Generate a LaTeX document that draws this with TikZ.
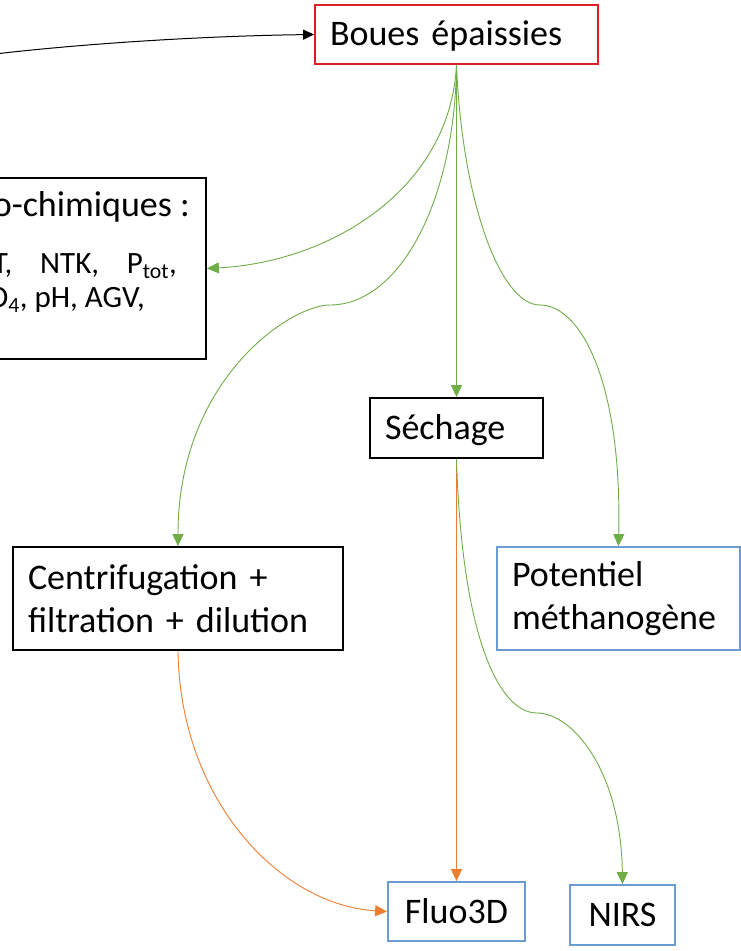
\documentclass[tikz,border=0pt]{standalone}
\usepackage{fontspec}
\setmainfont{Carlito}
\usetikzlibrary{arrows.meta}
\definecolor{boxred}{RGB}{222,30,36}
\definecolor{boxblue}{RGB}{108,155,210}
\definecolor{lgreen}{RGB}{112,173,71}
\definecolor{lorange}{RGB}{237,125,49}
\begin{document}
\begin{tikzpicture}[x=1pt,y=-1pt,
  bigfont/.style={font=\fontsize{36}{43}\selectfont},
  box/.style={rectangle, draw=black, line width=1.8pt, inner xsep=15pt, inner ysep=0pt,
    align=left, bigfont, anchor=center},
  redbox/.style={box, draw=boxred},
  bluebox/.style={box, draw=boxblue},
  smalltext/.style={font=\fontsize{31}{37}\selectfont, inner sep=0pt},
  linetext/.style={bigfont, inner sep=0pt},
  garrow/.style={draw=lgreen, line width=0.9pt, -{Triangle[length=12pt,width=11pt]}},
  oarrow/.style={draw=lorange, line width=0.9pt, -{Triangle[length=12pt,width=11pt]}},
  karrow/.style={draw=black, line width=1pt, -{Triangle[length=11pt,width=10pt]}}
]
\useasboundingbox (0,0) rectangle (741,951);
\fill[white] (0,0) rectangle (741,951);

% nodes
\node[redbox, minimum width=283pt, minimum height=59pt, text width=253pt, text depth=2pt] (boues) at (456.5,34.5) {Boues épaissies};
\node[rectangle, draw=black, line width=1.8pt, minimum width=236pt, minimum height=181pt, inner sep=0pt] (phys) at (88,268.5) {};
\node[linetext, anchor=base east] (l1) at (190,216) {o-chimiques :};
\node[smalltext, anchor=base east] (l2) at (177,273) {\hbox to 184pt{T,\hfill NTK,\hfill P\textsubscript{tot},}};
\node[smalltext, anchor=base east] (l3) at (145,307) {O\textsubscript{4}, pH, AGV,};
\node[box, minimum width=173pt, minimum height=60pt, text width=143pt, text depth=2pt] (sechage) at (456.5,428) {Séchage};
\node[box, minimum width=330pt, minimum height=103pt, text width=300pt] (centri) at (178,598.5) {Centrifugation +\\filtration + dilution};
\node[bluebox, minimum width=243pt, minimum height=103pt, text width=213pt] (potentiel) at (618.5,598.5) {Potentiel\\méthanogène};
\node[bluebox, minimum width=137pt, minimum height=59pt, text width=107pt, align=center, inner xsep=15pt] (fluo) at (456.5,911.5) {Fluo3D};
\node[bluebox, minimum width=105pt, minimum height=60pt, text width=75pt, align=center, inner xsep=15pt] (nirs) at (622.5,915) {NIRS};

\coordinate (src) at (-5,54);
\coordinate (wpc) at (330,305);
\coordinate (wpp) at (540,305);
\coordinate (wpn) at (537,713);

% connectors
\draw[karrow] (src) .. controls (80,44) and (200,36) .. (boues.west);
\draw[garrow] (boues.south) .. controls (450,190) and (330,262) .. (phys.east);
\draw[garrow] (boues.south) .. controls (455,200) and (400,305) .. (wpc)
   .. controls (290,305) and (178,380) .. (centri.north);
\draw[garrow] (boues.south) -- (sechage.north);
\draw[garrow] (boues.south) .. controls (462,200) and (500,305) .. (wpp)
   .. controls (580,305) and (622,380) .. (potentiel.north);
\draw[oarrow] (sechage.south) -- (fluo.north);
\draw[garrow] (sechage.south) .. controls (462,640) and (500,713) .. (wpn)
   .. controls (572,713) and (621,770) .. (nirs.north);
\draw[oarrow] (centri.south) .. controls (180,800) and (280,905) .. (fluo.west);
\end{tikzpicture}
\end{document}
